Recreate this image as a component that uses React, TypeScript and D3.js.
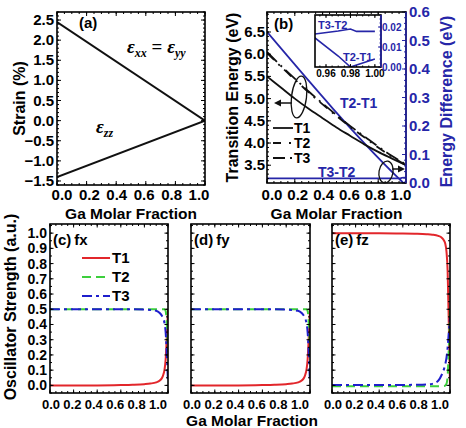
import React from 'react';
import * as d3 from 'd3';

const SANS = '"Liberation Sans", Arial, Helvetica, sans-serif';
const SERIF = '"Liberation Serif", "Times New Roman", serif';
const NAVY = '#2626a8';
const RED = '#e2262b';
const GREEN = '#3dcf3d';
const BLUE = '#1e1ecc';

// (a) strain (%) vs Ga molar fraction
const strainX = [0, 1];
const strainInPlane = [2.45, 0];
const strainZZ = [-1.4, 0];
const strainTicks = [-1.5, -1.0, -0.5, 0.0, 0.5, 1.0, 1.5, 2.0, 2.5];

// (b) transition energies (eV)
const energyX = [0, 0.1, 0.2, 0.3, 0.4, 0.5, 0.6, 0.7, 0.8, 0.9, 1.0];
const energyT1 = [5.5, 5.25, 5.0, 4.77, 4.56, 4.35, 4.16, 3.97, 3.8, 3.65, 3.5];
const energyT2 = [6.03, 5.72, 5.43, 5.14, 4.87, 4.61, 4.36, 4.13, 3.9, 3.69, 3.5];
const energyT3 = [6.05, 5.74, 5.45, 5.16, 4.89, 4.63, 4.38, 4.15, 3.92, 3.71, 3.52];
const energyTicks = [3.5, 4.0, 4.5, 5.0, 5.5, 6.0, 6.5];

// energy differences (eV)
const diffX = [0, 0.951, 0.97, 0.98, 0.985, 1.0];
const diffT2T1 = [0.53, 0.0145, 0.0055, 0.0, 0.001, 0.004];
const diffT3T2 = [0.0165, 0.0165, 0.018, 0.019, 0.0178, 0.0178];
const diffTicks = [0, 0.1, 0.2, 0.3, 0.4, 0.5, 0.6];
const insetXTicks = [0.96, 0.98, 1.0];
const insetYTicks = [0, 0.01, 0.02];

const fracTicks = [0, 0.2, 0.4, 0.6, 0.8, 1.0];

// (c)-(e) oscillator strengths (a.u.)
const oscX = [0, 0.2, 0.4, 0.6, 0.7, 0.8, 0.85, 0.9, 0.93, 0.95, 0.96, 0.97, 0.98, 0.99, 1.0];
const fxT1 = [0, 0, 0, 0.002, 0.004, 0.008, 0.012, 0.02, 0.032, 0.05, 0.07, 0.1, 0.17, 0.32, 0.5];
const fxT2 = [0.5, 0.5, 0.5, 0.5, 0.5, 0.5, 0.5, 0.5, 0.5, 0.5, 0.5, 0.5, 0.49, 0.4, 0.22];
const fxT3 = [0.5, 0.5, 0.5, 0.5, 0.5, 0.498, 0.495, 0.49, 0.475, 0.455, 0.44, 0.41, 0.35, 0.2, 0.02];
const fyT1 = [0, 0, 0, 0.002, 0.004, 0.008, 0.012, 0.02, 0.032, 0.05, 0.07, 0.1, 0.17, 0.32, 0.5];
const fyT2 = [0.5, 0.5, 0.5, 0.5, 0.5, 0.5, 0.5, 0.5, 0.5, 0.5, 0.5, 0.5, 0.49, 0.4, 0.22];
const fyT3 = [0.5, 0.5, 0.5, 0.5, 0.5, 0.498, 0.495, 0.49, 0.475, 0.455, 0.44, 0.41, 0.35, 0.2, 0.02];
const fzT1 = [1.0, 1.0, 1.0, 0.998, 0.996, 0.993, 0.99, 0.982, 0.97, 0.95, 0.93, 0.88, 0.75, 0.4, 0.0];
const fzT2 = [-0.005, -0.005, -0.005, -0.005, -0.005, -0.005, -0.005, -0.005, -0.005, -0.004, 0.0, 0.01, 0.06, 0.25, 0.5];
const fzT3 = [0.003, 0.003, 0.003, 0.003, 0.004, 0.006, 0.01, 0.03, 0.07, 0.11, 0.14, 0.18, 0.25, 0.35, 0.45];
const oscTicks = [0, 0.1, 0.2, 0.3, 0.4, 0.5, 0.6, 0.7, 0.8, 0.9, 1.0];

type Box = { l: number; r: number; t: number; b: number };
type Scale = d3.ScaleLinear<number, number>;

const f1 = d3.format('.1f');
const f2 = d3.format('.2f');

const linePath = (xs: number[], ys: number[], sx: Scale, sy: Scale) =>
  d3
    .line<number>()
    .x((_, i) => sx(xs[i]))
    .y((d) => sy(d))
    .curve(d3.curveMonotoneX)(ys) ?? '';

const minors = (lo: number, hi: number, step: number) =>
  d3.range(Math.round(lo / step), Math.round(hi / step) + 1).map((k) => k * step);

// ticks on all four sides, pointing inward
function FrameTicks(props: {
  box: Box;
  x: Scale;
  y: Scale;
  xMajor: number[];
  xMinor: number[];
  yMajor: number[];
  yMinor: number[];
  rightY?: Scale;
  rightMajor?: number[];
  rightMinor?: number[];
  rightColor?: string;
  major?: number;
  minor?: number;
}) {
  const { box, x, y } = props;
  const M = props.major ?? 4;
  const m = props.minor ?? 2;
  const segs: JSX.Element[] = [];
  let k = 0;
  const seg = (x1: number, y1: number, x2: number, y2: number, c = '#000') =>
    segs.push(<line key={k++} x1={x1} y1={y1} x2={x2} y2={y2} stroke={c} strokeWidth={1} />);
  props.xMajor.forEach((v) => {
    const p = x(v);
    seg(p, box.b, p, box.b - M);
    seg(p, box.t, p, box.t + M);
  });
  props.xMinor.forEach((v) => {
    const p = x(v);
    seg(p, box.b, p, box.b - m);
    seg(p, box.t, p, box.t + m);
  });
  props.yMajor.forEach((v) => {
    const p = y(v);
    seg(box.l, p, box.l + M, p);
    if (!props.rightY) seg(box.r, p, box.r - M, p);
  });
  props.yMinor.forEach((v) => {
    const p = y(v);
    seg(box.l, p, box.l + m, p);
    if (!props.rightY) seg(box.r, p, box.r - m, p);
  });
  if (props.rightY) {
    const c = props.rightColor ?? '#000';
    (props.rightMajor ?? []).forEach((v) => seg(box.r, props.rightY!(v), box.r - M, props.rightY!(v), c));
    (props.rightMinor ?? []).forEach((v) => seg(box.r, props.rightY!(v), box.r - m, props.rightY!(v), c));
  }
  return (
    <g>
      {segs}
      <rect x={box.l} y={box.t} width={box.r - box.l} height={box.b - box.t} fill="none" stroke="#000" strokeWidth={1.6} />
      {props.rightY && (
        <line x1={box.r} y1={box.t} x2={box.r} y2={box.b} stroke={props.rightColor} strokeWidth={1.6} />
      )}
    </g>
  );
}

function XLabels({ box, inset, y, size }: { box: Box; inset: [number, number]; y: number; size: number }) {
  const lx = d3.scaleLinear().domain([0, 1]).range([box.l + inset[0], box.r - inset[1]]);
  return (
    <g fontFamily={SANS} fontWeight="bold" fontSize={size} textAnchor="middle">
      {fracTicks.map((v) => (
        <text key={v} x={lx(v)} y={y}>
          {f1(v)}
        </text>
      ))}
    </g>
  );
}

function StrainPanel() {
  const box: Box = { l: 57, r: 205, t: 12, b: 185 };
  const x = d3.scaleLinear().domain([0, 1]).range([box.l, box.r]);
  const y = d3.scaleLinear().domain([-1.6, 2.7]).range([box.b, box.t]);
  return (
    <g>
      <defs>
        <clipPath id="clip-a">
          <rect x={box.l} y={box.t} width={box.r - box.l} height={box.b - box.t} />
        </clipPath>
      </defs>
      <g clipPath="url(#clip-a)" fill="none" stroke="#111" strokeWidth={2}>
        <path d={linePath(strainX, strainInPlane, x, y)} />
        <path d={linePath(strainX, strainZZ, x, y)} />
      </g>
      <FrameTicks
        box={box}
        x={x}
        y={y}
        xMajor={fracTicks}
        xMinor={minors(0, 1, 0.05)}
        yMajor={strainTicks}
        yMinor={minors(-1.6, 2.7, 0.1)}
      />
      <g fontFamily={SANS} fontWeight="bold" fontSize={15} textAnchor="end">
        {strainTicks.map((v) => (
          <text key={v} x={box.l - 3} y={y(v) + 5}>
            {f1(v)}
          </text>
        ))}
      </g>
      <XLabels box={box} inset={[5, 6]} y={200} size={15} />
      <text x={(box.l + box.r) / 2} y={219} fontFamily={SANS} fontWeight="bold" fontSize={15.5} textAnchor="middle">
        Ga Molar Fraction
      </text>
      <text
        transform={`translate(25,${(box.t + box.b) / 2}) rotate(-90)`}
        fontFamily={SANS}
        fontWeight="bold"
        fontSize={16}
        textAnchor="middle"
      >
        Strain (%)
      </text>
      <text x={79} y={28} fontFamily={SANS} fontWeight="bold" fontSize={15}>
        (a)
      </text>
      <text x={127} y={53} fontFamily={SERIF} fontStyle="italic" fontWeight="bold" fontSize={19}>
        ε<tspan fontSize={12} dy={4}>xx</tspan>
        <tspan dy={-4} fontStyle="normal"> = </tspan>ε<tspan fontSize={12} dy={4}>yy</tspan>
      </text>
      <text x={96} y={133} fontFamily={SERIF} fontStyle="italic" fontWeight="bold" fontSize={19}>
        ε<tspan fontSize={12} dy={4}>zz</tspan>
      </text>
    </g>
  );
}

function Arrow({ x1, x2, y }: { x1: number; x2: number; y: number }) {
  const dir = Math.sign(x2 - x1);
  return (
    <g>
      <line x1={x1} y1={y} x2={x2 - dir * 5} y2={y} stroke="#111" strokeWidth={1.5} />
      <polygon points={`${x2},${y} ${x2 - dir * 7},${y - 3.5} ${x2 - dir * 7},${y + 3.5}`} fill="#111" />
    </g>
  );
}

function EnergyPanel() {
  const box: Box = { l: 267, r: 406, t: 12, b: 183 };
  const x = d3.scaleLinear().domain([0, 1]).range([box.l, box.r]);
  const y = d3.scaleLinear().domain([3.1, 6.95]).range([box.b, box.t]);
  const yd = d3.scaleLinear().domain([0, 0.6]).range([box.b, box.t]);

  const ib: Box = { l: 315, r: 381, t: 15, b: 67 };
  const ix = d3.scaleLinear().domain([0.951, 1.005]).range([ib.l, ib.r]);
  const iy = d3.scaleLinear().domain([0, 0.026]).range([ib.b, ib.t]);

  const legend = [
    { name: 'T1', y: 128, dash: undefined as string | undefined },
    { name: 'T2', y: 143, dash: '8,8,2,20' },
    { name: 'T3', y: 158, dash: '12,5,2,20' },
  ];

  return (
    <g>
      <defs>
        <clipPath id="clip-b">
          <rect x={box.l} y={box.t} width={box.r - box.l} height={box.b - box.t} />
        </clipPath>
        <clipPath id="clip-inset">
          <rect x={ib.l} y={ib.t} width={ib.r - ib.l} height={ib.b - ib.t} />
        </clipPath>
      </defs>
      <g clipPath="url(#clip-b)" fill="none" strokeWidth={1.8}>
        <path d={linePath(diffX, diffT2T1, x, yd)} stroke={NAVY} />
        <path d={linePath(diffX, diffT3T2, x, yd)} stroke={NAVY} />
        <path d={linePath(energyX, energyT1, x, y)} stroke="#111" />
        <path d={linePath(energyX, energyT2, x, y)} stroke="#111" strokeDasharray="10,6,2,6" />
        <path d={linePath(energyX, energyT3, x, y)} stroke="#111" strokeDasharray="14,5,2,5" />
      </g>
      <FrameTicks
        box={box}
        x={x}
        y={y}
        xMajor={fracTicks}
        xMinor={minors(0, 1, 0.05)}
        yMajor={energyTicks}
        yMinor={minors(3.2, 6.9, 0.1)}
        rightY={yd}
        rightMajor={diffTicks}
        rightMinor={minors(0, 0.6, 0.02)}
        rightColor={NAVY}
      />
      {/* inset: zoom near the crossing */}
      <rect x={ib.l} y={ib.t} width={ib.r - ib.l} height={ib.b - ib.t} fill="#fff" />
      <g clipPath="url(#clip-inset)" fill="none" stroke={NAVY} strokeWidth={1.6}>
        <path d={d3.line<number>().x((_, i) => ix(diffX[i])).y((d) => iy(d))(diffT2T1) ?? ''} />
        <path d={d3.line<number>().x((_, i) => ix(diffX[i])).y((d) => iy(d))(diffT3T2) ?? ''} />
      </g>
      <FrameTicks
        box={ib}
        x={ix}
        y={iy}
        xMajor={insetXTicks}
        xMinor={minors(0.955, 1.0, 0.005)}
        yMajor={[]}
        yMinor={[]}
        rightY={iy}
        rightMajor={insetYTicks}
        rightMinor={minors(0, 0.026, 0.002)}
        rightColor={NAVY}
        major={3}
        minor={1.5}
      />
      <g fontFamily={SANS} fontWeight="bold" fontSize={10} textAnchor="middle">
        {insetXTicks.map((v) => (
          <text key={v} x={ix(v)} y={ib.b + 10}>
            {f2(v)}
          </text>
        ))}
      </g>
      <g fontFamily={SANS} fontWeight="bold" fontSize={10} fill={NAVY}>
        {insetYTicks.map((v) => (
          <text key={v} x={ib.r + 1} y={iy(v) + 4}>
            {f2(v)}
          </text>
        ))}
      </g>
      <g fontFamily={SANS} fontWeight="bold" fontSize={11} fill={NAVY}>
        <text x={318} y={29}>T3-T2</text>
        <text x={343} y={61}>T2-T1</text>
      </g>
      <g fontFamily={SANS} fontWeight="bold" fontSize={14} fill={NAVY}>
        <text x={340} y={108}>T2-T1</text>
        <text x={318} y={177}>T3-T2</text>
      </g>
      {/* axis tick labels */}
      <g fontFamily={SANS} fontWeight="bold" fontSize={15} textAnchor="end">
        {energyTicks.map((v) => (
          <text key={v} x={box.l - 2} y={y(v) + 5}>
            {f1(v)}
          </text>
        ))}
      </g>
      <g fontFamily={SANS} fontWeight="bold" fontSize={15} fill={NAVY}>
        {diffTicks.map((v) => (
          <text key={v} x={box.r + 3} y={yd(v) + 5}>
            {f1(v)}
          </text>
        ))}
      </g>
      <XLabels box={box} inset={[5, 5]} y={200} size={15} />
      <text x={(box.l + box.r) / 2} y={219} fontFamily={SANS} fontWeight="bold" fontSize={15.5} textAnchor="middle">
        Ga Molar Fraction
      </text>
      <text
        transform={`translate(238,${(box.t + box.b) / 2}) rotate(-90)`}
        fontFamily={SANS}
        fontWeight="bold"
        fontSize={16}
        textAnchor="middle"
      >
        Transition Energy (eV)
      </text>
      <text
        transform={`translate(452,${(box.t + box.b) / 2 + 4}) rotate(-90)`}
        fontFamily={SANS}
        fontWeight="bold"
        fontSize={16}
        textAnchor="middle"
        fill={NAVY}
      >
        Energy Difference (eV)
      </text>
      <text x={274} y={29} fontFamily={SANS} fontWeight="bold" fontSize={15}>
        (b)
      </text>
      {/* legend */}
      {legend.map((d) => (
        <g key={d.name}>
          <line x1={273} x2={293} y1={d.y} y2={d.y} stroke="#111" strokeWidth={1.8} strokeDasharray={d.dash} />
          <text x={294} y={d.y + 5} fontFamily={SANS} fontWeight="bold" fontSize={14}>
            {d.name}
          </text>
        </g>
      ))}
      {/* ellipses marking which axis each group belongs to */}
      <ellipse cx={299} cy={97} rx={7.5} ry={21} fill="none" stroke="#111" strokeWidth={1.3} transform="rotate(7,299,97)" />
      <Arrow x1={292} x2={274} y={103} />
      <ellipse cx={386} cy={172} rx={7} ry={11} fill="none" stroke="#111" strokeWidth={1.3} transform="rotate(10,386,172)" />
      <Arrow x1={392} x2={405} y={169} />
    </g>
  );
}

function OscPanel(props: {
  id: string;
  box: Box;
  t1: number[];
  t2: number[];
  t3: number[];
  label: string;
  comp: string;
  yLabels?: boolean;
  legend?: boolean;
}) {
  const { box } = props;
  const x = d3.scaleLinear().domain([0, 1]).range([box.l, box.r]);
  const y = d3.scaleLinear().domain([-0.05, 1.06]).range([box.b, box.t]);
  const legend = [
    { name: 'T1', color: RED, dash: undefined as string | undefined, y: 258 },
    { name: 'T2', color: GREEN, dash: '9,5', y: 277 },
    { name: 'T3', color: BLUE, dash: '10,4,3,4', y: 296 },
  ];
  return (
    <g>
      <defs>
        <clipPath id={`clip-${props.id}`}>
          <rect x={box.l} y={box.t} width={box.r - box.l} height={box.b - box.t} />
        </clipPath>
      </defs>
      <g clipPath={`url(#clip-${props.id})`} fill="none" strokeWidth={2}>
        <path d={linePath(oscX, props.t1, x, y)} stroke={RED} />
        <path d={linePath(oscX, props.t2, x, y)} stroke={GREEN} strokeDasharray="9,5" />
        <path d={linePath(oscX, props.t3, x, y)} stroke={BLUE} strokeDasharray="10,4,3,4" />
      </g>
      <FrameTicks
        box={box}
        x={x}
        y={y}
        xMajor={fracTicks}
        xMinor={minors(0, 1, 0.05)}
        yMajor={oscTicks}
        yMinor={minors(-0.05, 1.05, 0.05)}
        major={3.5}
        minor={2}
      />
      {props.yLabels && (
        <g fontFamily={SANS} fontWeight="bold" fontSize={14} textAnchor="end">
          {oscTicks.map((v) => (
            <text key={v} x={box.l - 3} y={y(v) + 5}>
              {f1(v)}
            </text>
          ))}
        </g>
      )}
      <XLabels box={box} inset={[1, 10]} y={409} size={13} />
      <text x={box.l + 3} y={245} fontFamily={SANS} fontWeight="bold" fontSize={15}>
        {props.label}
        <tspan dx={3}>{props.comp}</tspan>
      </text>
      {props.legend &&
        legend.map((d) => (
          <g key={d.name}>
            <line x1={82} x2={110} y1={d.y} y2={d.y} stroke={d.color} strokeWidth={2} strokeDasharray={d.dash} />
            <text x={112} y={d.y + 5} fontFamily={SANS} fontWeight="bold" fontSize={15}>
              {d.name}
            </text>
          </g>
        ))}
    </g>
  );
}

export default function App() {
  return (
    <svg
      width={466}
      height={428}
      viewBox="0 0 466 428"
      style={{ position: 'absolute', left: 0, top: 0, background: '#fff' }}
    >
      <rect width={466} height={428} fill="#fff" />
      <StrainPanel />
      <EnergyPanel />
      <OscPanel id="c" box={{ l: 50, r: 168, t: 224, b: 393 }} t1={fxT1} t2={fxT2} t3={fxT3} label="(c)" comp="fx" yLabels legend />
      <OscPanel id="d" box={{ l: 191, r: 310, t: 224, b: 393 }} t1={fyT1} t2={fyT2} t3={fyT3} label="(d)" comp="fy" />
      <OscPanel id="e" box={{ l: 332, r: 450, t: 224, b: 393 }} t1={fzT1} t2={fzT2} t3={fzT3} label="(e)" comp="fz" />
      <text x={252} y={426} fontFamily={SANS} fontWeight="bold" fontSize={15.5} textAnchor="middle">
        Ga Molar Fraction
      </text>
      <text
        transform="translate(16,307) rotate(-90)"
        fontFamily={SANS}
        fontWeight="bold"
        fontSize={16}
        textAnchor="middle"
      >
        Oscillator Strength (a.u.)
      </text>
    </svg>
  );
}
